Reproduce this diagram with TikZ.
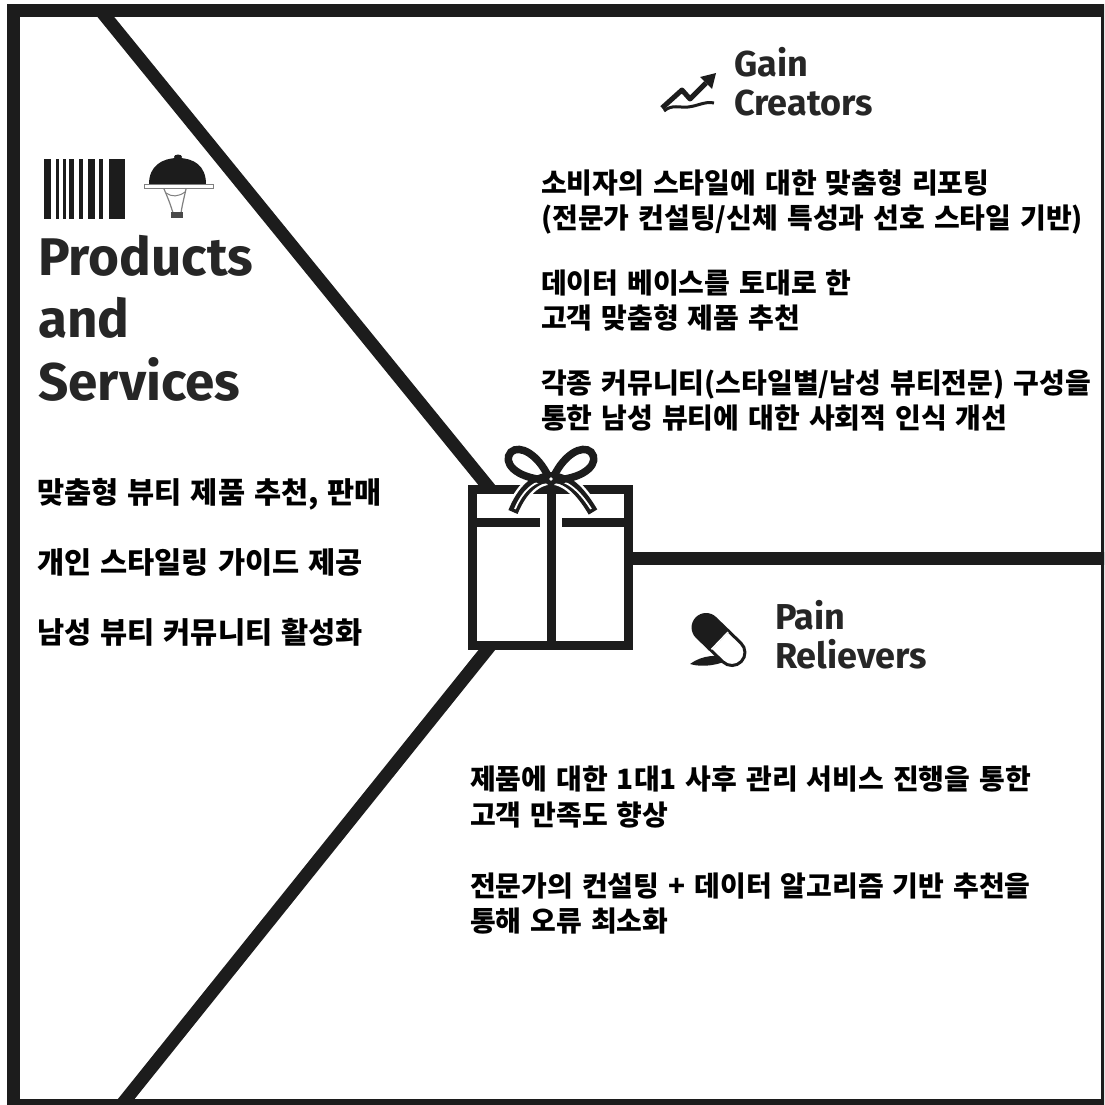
\documentclass[tikz,border=0pt]{standalone}
\usepackage{fontspec}
\newfontfamily\krfont{Noto Sans CJK KR}
\newfontfamily\headfont{Fira Sans}
\definecolor{ink}{HTML}{1C1C1C}
\definecolor{headgray}{HTML}{262626}
\newcommand\krbody{\krfont\bfseries\fontsize{28}{35}\selectfont\spaceskip=9pt plus 1pt\relax}
\newcommand\krlist{\krfont\bfseries\fontsize{29.5}{35}\selectfont\spaceskip=9pt plus 1pt\relax}
\begin{document}
\begin{tikzpicture}[x=1pt,y=-1pt,
  wall/.style={draw=ink, line width=13pt},
  giftline/.style={draw=ink, line width=9pt},
  body/.style={anchor=base west, inner sep=0pt, text=black, font=\krbody},
  listbody/.style={anchor=base west, inner sep=0pt, text=black, font=\krlist},
  head/.style={anchor=base west, inner sep=0pt, text=headgray,
    font=\headfont\bfseries\fontsize{53}{62}\selectfont},
  subhead/.style={anchor=base west, inner sep=0pt, text=headgray,
    font=\headfont\bfseries\fontsize{36}{39}\selectfont}]
\useasboundingbox (0,0) rectangle (1104,1105);
\clip (0,0) rectangle (1104,1105);
\fill[white] (0,0) rectangle (1104,1105);

% frame and dividing lines
\coordinate (frameNW) at (13.5,11);
\coordinate (frameSE) at (1107,1105.5);
\coordinate (topD) at (101,11);
\coordinate (giftNW) at (490,489);
\coordinate (giftSW) at (490,646);
\coordinate (botD) at (121,1105.5);
\coordinate (giftE) at (628,558);
\coordinate (rightE) at (1107,558);
\draw[wall] (frameNW) rectangle (frameSE);
\draw[wall] (topD) -- (giftNW);
\draw[wall] (giftSW) -- (botD);
\draw[wall] (giftE) -- (rightE);

% gift box
\fill[white] (472,489) rectangle (628,645);
\draw[giftline] (472,489) rectangle (628,645);
\draw[giftline] (472,522) -- (540,522);
\draw[giftline] (562,522) -- (628,522);
\draw[giftline] (551,489) -- (551,645);
% ribbon tails
\draw[white, line width=15pt] (513,512) .. controls (522,490) and (535,478) .. (551,477) .. controls (567,478) and (580,490) .. (593,512);
\draw[ink, line width=10pt] (513,512) .. controls (522,490) and (535,478) .. (551,477) .. controls (567,478) and (580,490) .. (593,512);
\draw[white, line width=1.8pt] (515,509) .. controls (523,490) and (535,480) .. (551,479) .. controls (567,480) and (579,490) .. (591,509);
% bow loops
\draw[ink, line width=7.5pt] (548,476) .. controls (538,455) and (520,444) .. (511,452) .. controls (502,462) and (515,478) .. (546,480);
\draw[ink, line width=7.5pt] (554,476) .. controls (564,455) and (582,444) .. (591,452) .. controls (600,462) and (587,478) .. (556,480);
\fill[ink] (551,479) circle (6.5);
\fill[white] (551,479) circle (1.8);

% barcode
\foreach \a/\b in {44/51,56/59,63/66,69/74,79/83,88/95,99/103,109/125}
  \fill[ink] (\a,159) rectangle (\b,219);

% cloche on a hand
\fill[ink] (149,184) .. controls (149,166) and (162,158) .. (178,158) .. controls (194,158) and (206,166) .. (206,184) -- cycle;
\fill[ink] (178,157) ellipse (4 and 2.5);
\filldraw[fill=white, draw=gray, line width=1pt] (144,184) rectangle (213,188);
\draw[gray, line width=1.2pt] (164,189) .. controls (168,198) and (171,206) .. (173,213);
\draw[gray, line width=1.2pt] (186,189) .. controls (184,198) and (182,206) .. (181,213);
\draw[gray, line width=1pt] (166,193) .. controls (172,197) and (178,197) .. (185,192);
\fill[ink!80] (171,212) rectangle (183,218);

% rising chart
\draw[ink, line width=5pt, line join=round] (662,108) -- (682,90) -- (690,99) -- (706,83);
\fill[ink] (716,73) -- (700,77) -- (712,89) -- cycle;
\draw[ink, line width=3pt] (664,111) .. controls (672,104) and (680,108) .. (688,107) .. controls (698,106) and (705,101) .. (714,103);

% capsule
\fill[ink] (690,664) .. controls (702,655) and (718,654) .. (733,658) .. controls (720,665) and (703,668) .. cycle;
\begin{scope}[shift={(719,640)}, rotate=-44]
  \filldraw[fill=white, draw=ink, line width=3pt] (0,-13) -- (18,-13) arc (-90:90:13) -- (0,13) -- cycle;
  \fill[ink] (0,-14.5) -- (-18,-14.5) arc (270:90:14.5) -- (0,14.5) -- cycle;
  \draw[white, line width=1.5pt] (1,-12) -- (1,12);
\end{scope}

% headings
\node[head] (ps1) at (38,275) {Products};
\node[head] (ps2) at (38,337) {and};
\node[head] (ps3) at (38,400) {Services};
\node[subhead] (gc1) at (734,77) {Gain};
\node[subhead] (gc2) at (734,116) {Creators};
\node[subhead] (pr1) at (775,629) {Pain};
\node[subhead] (pr2) at (775,668) {Relievers};

% gain creators
\node[body] (g1) at (541,193) {소비자의 스타일에 대한 맞춤형 리포팅};
\node[body] (g2) at (541,228) {(전문가 컨설팅/신체 특성과 선호 스타일 기반)};
\node[body] (g3) at (541,293) {데이터 베이스를 토대로 한};
\node[body] (g4) at (541,328) {고객 맞춤형 제품 추천};
\node[body] (g5) at (541,393) {각종 커뮤니티(스타일별/남성 뷰티전문) 구성을};
\node[body] (g6) at (541,428) {통한 남성 뷰티에 대한 사회적 인식 개선};

% products and services
\node[listbody] (p1) at (37,503.5) {맞춤형 뷰티 제품 추천, 판매};
\node[listbody] (p2) at (37,573.5) {개인 스타일링 가이드 제공};
\node[listbody] (p3) at (37,643.5) {남성 뷰티 커뮤니티 활성화};

% pain relievers
\node[body] (r1) at (470,789) {제품에 대한 1대1 사후 관리 서비스 진행을 통한};
\node[body] (r2) at (470,825) {고객 만족도 향상};
\node[body] (r3) at (470,896) {전문가의 컨설팅 + 데이터 알고리즘 기반 추천을};
\node[body] (r4) at (470,931) {통해 오류 최소화};
\end{tikzpicture}
\end{document}
